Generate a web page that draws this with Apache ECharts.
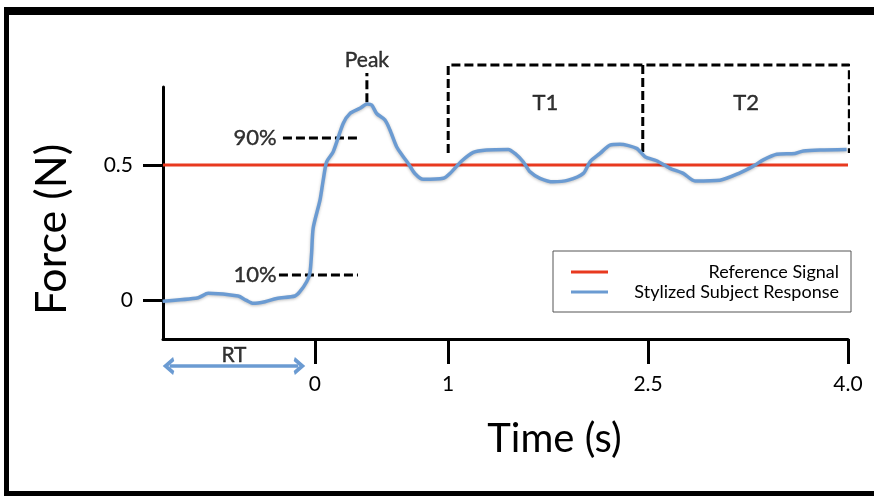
<!DOCTYPE html>
<html>
<head>
<meta charset="utf-8">
<script src="https://cdn.jsdelivr.net/npm/echarts@6/dist/echarts.min.js"></script>
<style>
  html, body { margin: 0; padding: 0; background: #fff; }
  #chart { width: 874px; height: 496px; }
</style>
</head>
<body>
<div id="chart"></div>
<script>
// Axis ticks
const timeTicks = [0, 1, 2.5, 4.0];
const timeTickLabels = ['0', '1', '2.5', '4.0'];
const forceTicks = [0, 0.5];

// Reference signal (constant target force)
const referenceTime = [-1.14, 4.0];
const referenceForce = [0.5, 0.5];

// Stylized subject response
const responseTime = [-1.143, -0.876, -0.801, -0.576, -0.518, -0.463, -0.375, -0.287, -0.150, -0.113,
  -0.062, -0.038, -0.025, -0.013, 0.038, 0.062, 0.088, 0.137, 0.212, 0.263, 0.338, 0.392, 0.426,
  0.463, 0.525, 0.563, 0.613, 0.663, 0.700, 0.750, 0.813, 0.963, 1.013, 1.101, 1.188, 1.289, 1.451,
  1.501, 1.563, 1.614, 1.689, 1.788, 1.901, 2.014, 2.064, 2.139, 2.214, 2.289, 2.414, 2.477, 2.564,
  2.664, 2.764, 2.852, 3.039, 3.189, 3.289, 3.364, 3.465, 3.602, 3.665, 3.790, 3.990];
const responseForce = [-0.004, 0.009, 0.025, 0.015, 0.000, -0.012, -0.006, 0.006, 0.015, 0.031,
  0.068, 0.099, 0.173, 0.267, 0.370, 0.444, 0.512, 0.549, 0.654, 0.691, 0.710, 0.726, 0.722,
  0.691, 0.667, 0.630, 0.568, 0.531, 0.506, 0.469, 0.447, 0.451, 0.469, 0.515, 0.547, 0.556, 0.558,
  0.543, 0.512, 0.475, 0.451, 0.438, 0.444, 0.469, 0.512, 0.543, 0.574, 0.577, 0.562, 0.531, 0.516,
  0.488, 0.469, 0.441, 0.444, 0.471, 0.496, 0.519, 0.540, 0.543, 0.552, 0.556, 0.558];

// Peak marker
const peakTime = 0.39;
const peakForce = 0.733;
const peakMarkerTop = 0.841;
const peakLabelForce = 0.889;

// Rise thresholds (90% / 10%)
const thresholdNames = ['90%', '10%'];
const thresholdForce = [0.6, 0.093];
const thresholdStart = [-0.24, -0.27];
const thresholdEnd = [0.345, 0.323];
const thresholdLabelTime = -0.45;

// Analysis windows T1, T2
const windowNames = ['T1', 'T2'];
const windowEdges = [1.0, 2.46, 4.01];
const windowTop = 0.87;
const windowBottom = 0.545;
const windowLabelForce = 0.73;

// Reaction time span
const rtName = 'RT';
const rtStart = -1.09;
const rtEnd = -0.125;
const rtForce = -0.244;
const rtLabelForce = -0.204;

const RED = '#e8391f';
const BLUE = '#6b9bd2';
const FONT = 'Lato, "Open Sans", sans-serif';
const CHEVRON = 'path://M0,10 L10,0 L20,10';

const zip = (xs, ys) => xs.map((x, i) => [x, ys[i]]);
const dashed = { color: '#000', width: 3, type: [9, 4] };

function dashedSeries(points) {
  return {
    type: 'line', data: points, showSymbol: false, symbol: 'none', clip: false,
    silent: true, animation: false, lineStyle: dashed, z: 4
  };
}

function textSeries(name, t, f, size) {
  return {
    type: 'scatter', clip: false, silent: true, animation: false, symbolSize: 0,
    data: [{ name: name, value: [t, f] }],
    label: {
      show: true, position: 'inside', formatter: '{b}', color: '#000',
      fontFamily: FONT, fontSize: size, textBorderWidth: 0.4, textBorderColor: '#000'
    }
  };
}

const windowSegments = [
  [[windowEdges[0], windowBottom], [windowEdges[0], windowTop], [windowEdges[2], windowTop], [windowEdges[2], windowBottom]],
  [[windowEdges[1], windowTop], [windowEdges[1], windowBottom]]
];

const series = [
  {
    name: 'Reference Signal', type: 'line', data: zip(referenceTime, referenceForce),
    showSymbol: false, symbol: 'none', lineStyle: { color: RED, width: 3 }, itemStyle: { color: RED },
    animation: false, z: 3
  },
  {
    name: 'Stylized Subject Response', type: 'line', data: zip(responseTime, responseForce),
    showSymbol: false, symbol: 'none', smooth: 0.25,
    lineStyle: { color: BLUE, width: 3.5, shadowColor: 'rgba(0,0,0,0.25)', shadowBlur: 3, shadowOffsetY: 1 },
    itemStyle: { color: BLUE }, animation: false, z: 5
  },
  dashedSeries([[peakTime, peakForce], [peakTime, peakMarkerTop]]),
  textSeries('Peak', peakTime, peakLabelForce, 21),
  ...thresholdNames.map((n, i) => dashedSeries([[thresholdStart[i], thresholdForce[i]], [thresholdEnd[i], thresholdForce[i]]])),
  ...thresholdNames.map((n, i) => textSeries(n, thresholdLabelTime, thresholdForce[i], 22)),
  ...windowSegments.map(seg => dashedSeries(seg)),
  ...windowNames.map((n, i) => textSeries(n, (windowEdges[i] + windowEdges[i + 1]) / 2, windowLabelForce, 22)),
  {
    // double-headed RT arrow below the time axis
    type: 'line', clip: false, silent: true, animation: false, showSymbol: true,
    data: [
      { value: [rtStart, rtForce], symbol: CHEVRON, symbolRotate: 90 },
      { value: [rtEnd, rtForce], symbol: CHEVRON, symbolRotate: -90 }
    ],
    symbolSize: [14, 8], symbolKeepAspect: false,
    lineStyle: { color: BLUE, width: 3.5 },
    itemStyle: { color: 'none', borderColor: BLUE, borderWidth: 3.5 }
  },
  textSeries(rtName, (rtStart + rtEnd) / 2, rtLabelForce, 21)
];

const chart = echarts.init(document.getElementById('chart'), null, { renderer: 'canvas' });
chart.setOption({
  backgroundColor: '#fff',
  animation: false,
  grid: { left: 163, right: 26, top: 87, bottom: 157 },
  xAxis: {
    type: 'value', min: -1.14, max: 4.0,
    name: 'Time (s)', nameLocation: 'middle', nameGap: 80, nameMoveOverlap: false,
    nameTextStyle: { fontFamily: FONT, fontSize: 40, color: '#000', padding: [0, 0, 0, 98] },
    axisLine: { show: true, onZero: false, lineStyle: { color: '#000', width: 3 } },
    axisTick: { show: true, customValues: timeTicks, length: 25, lineStyle: { color: '#000', width: 3 } },
    axisLabel: {
      customValues: timeTicks, margin: 35, color: '#000', fontFamily: FONT, fontSize: 21,
      formatter: v => timeTickLabels[timeTicks.indexOf(v)] ?? ''
    },
    splitLine: { show: false }
  },
  yAxis: {
    type: 'value', min: -0.144, max: 0.789,
    name: 'Force (N)', nameLocation: 'middle', nameGap: 89, nameRotate: 90, nameMoveOverlap: false,
    nameTextStyle: { fontFamily: FONT, fontSize: 43, color: '#000', padding: [0, 33, 0, 0] },
    axisLine: { show: true, onZero: false, lineStyle: { color: '#000', width: 3 } },
    axisTick: { show: true, customValues: forceTicks, length: 20, lineStyle: { color: '#000', width: 3 } },
    axisLabel: { customValues: forceTicks, margin: 30, color: '#000', fontFamily: FONT, fontSize: 21 },
    splitLine: { show: false }
  },
  legend: {
    data: ['Reference Signal', 'Stylized Subject Response'],
    orient: 'vertical', left: 553, top: 251,
    padding: [12, 12, 11, 18], itemGap: 2, itemWidth: 37, itemHeight: 3, icon: 'rect',
    backgroundColor: '#fff', borderColor: '#555', borderWidth: 1, borderRadius: 0,
    formatter: name => '{t|' + name + '}',
    textStyle: {
      rich: { t: { width: 226, align: 'right', fontFamily: FONT, fontSize: 18, color: '#000' } }
    }
  },
  graphic: [
    { type: 'rect', shape: { x: 4, y: 7, width: 880, height: 8 }, style: { fill: '#000' }, silent: true },
    { type: 'rect', shape: { x: 4, y: 7, width: 5, height: 500 }, style: { fill: '#000' }, silent: true },
    { type: 'rect', shape: { x: 4, y: 491, width: 880, height: 10 }, style: { fill: '#000' }, silent: true }
  ],
  series: series
});
</script>
</body>
</html>
